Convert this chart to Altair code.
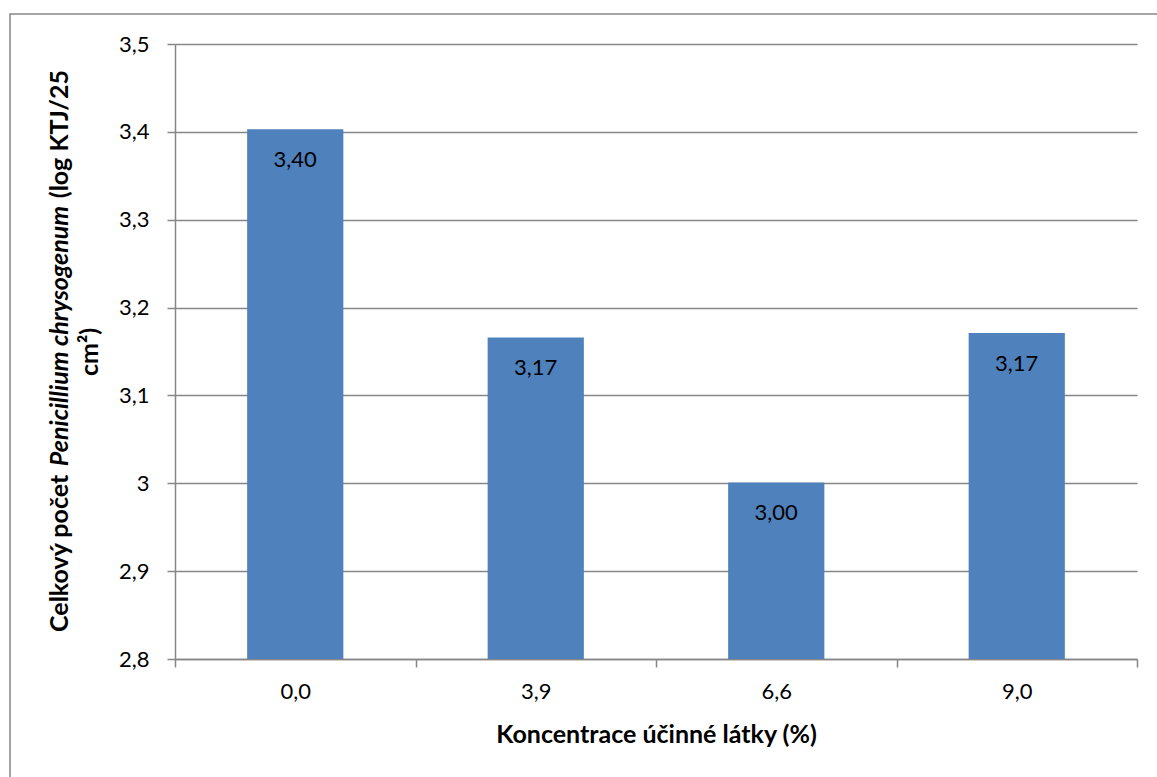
import altair as alt
import pandas as pd

# Active-ingredient concentration (%) and total Penicillium chrysogenum count (log CFU/25 cm2)
concentrations = ["0,0", "3,9", "6,6", "9,0"]
log_counts = [3.403, 3.166, 3.001, 3.171]
y_ticks = [2.8, 2.9, 3.0, 3.1, 3.2, 3.3, 3.4, 3.5]
y_min, y_max = 2.8, 3.5

FONT = "Lato"
GRAY = "#868686"
BLUE = "#4F81BD"
TITLE_SIZE = 25

df = pd.DataFrame({"conc": concentrations, "value": log_counts})

x_enc = alt.X(
    "conc:N",
    sort=concentrations,
    scale=alt.Scale(paddingInner=0, paddingOuter=0),
    axis=alt.Axis(
        title="Koncentrace účinné látky (%)",
        labelAngle=0,
        tickBand="extent",
        grid=False,
        tickSize=8,
        labelPadding=14,
        titlePadding=20,
    ),
)
y_enc = alt.Y(
    "value:Q",
    scale=alt.Scale(domain=[y_min, y_max], nice=False, zero=False),
    axis=alt.Axis(
        title=None,
        values=y_ticks,
        format="~g",
        tickSize=8,
        labelPadding=18,
        grid=True,
    ),
)

base = alt.Chart(df)

# bars start at the axis minimum, as in a spreadsheet column chart
bars = base.mark_bar(color=BLUE, width={"band": 0.4}).encode(
    x=x_enc, y=y_enc, y2=alt.datum(y_min)
)

labels = base.mark_text(
    baseline="middle", dy=31, fontSize=22, font=FONT, color="#000000"
).encode(
    x=alt.X("conc:N", sort=concentrations),
    y="value:Q",
    text=alt.Text("value:Q", format=".2f"),
)

# two-line rotated y-axis title with the species name in italics
one = pd.DataFrame({"k": [0]})
title_style = dict(font=FONT, fontSize=TITLE_SIZE, fontWeight="bold", angle=270,
                   color="#000000", baseline="alphabetic")

t_a = alt.Chart(one).mark_text(text="Celkový počet", align="left", **title_style).encode(
    x=alt.value(-107), y=alt.value(588))
t_b = alt.Chart(one).mark_text(text="Penicillium chrysogenum", align="center",
                               fontStyle="italic", **title_style).encode(
    x=alt.value(-107), y=alt.value(292))
t_c = alt.Chart(one).mark_text(text="(log KTJ/25", align="right", **title_style).encode(
    x=alt.value(-107), y=alt.value(26))
t_d = alt.Chart(one).mark_text(text="cm²)", align="center", **title_style).encode(
    x=alt.value(-77), y=alt.value(308))

frame = alt.Chart(one).mark_rect(fill="transparent", stroke=GRAY, strokeWidth=1.5).encode(
    x=alt.value(-165), x2=alt.value(1300), y=alt.value(-30), y2=alt.value(900))

chart = (
    alt.layer(frame, bars, labels, t_a, t_b, t_c, t_d)
    .properties(
        width=962,
        height=615,
        autosize=alt.AutoSizeParams(type="none"),
        padding={"left": 175, "top": 44, "right": 20, "bottom": 118},
        background="white",
    )
    .configure(locale={"number": {"decimal": ",", "thousands": "\u00a0",
                                  "grouping": [3], "currency": ["", " Kč"]}})
    .configure_view(strokeWidth=0)
    .configure_axis(
        labelFont=FONT,
        labelFontSize=22,
        labelColor="#000000",
        titleFont=FONT,
        titleFontSize=25,
        titleFontWeight="bold",
        titleColor="#000000",
        domainColor=GRAY,
        tickColor=GRAY,
        gridColor=GRAY,
        domainWidth=1.5,
        tickWidth=1.5,
        gridWidth=1.5,
    )
)

chart.save("out.html", embed_options={"renderer": "svg", "actions": False})
